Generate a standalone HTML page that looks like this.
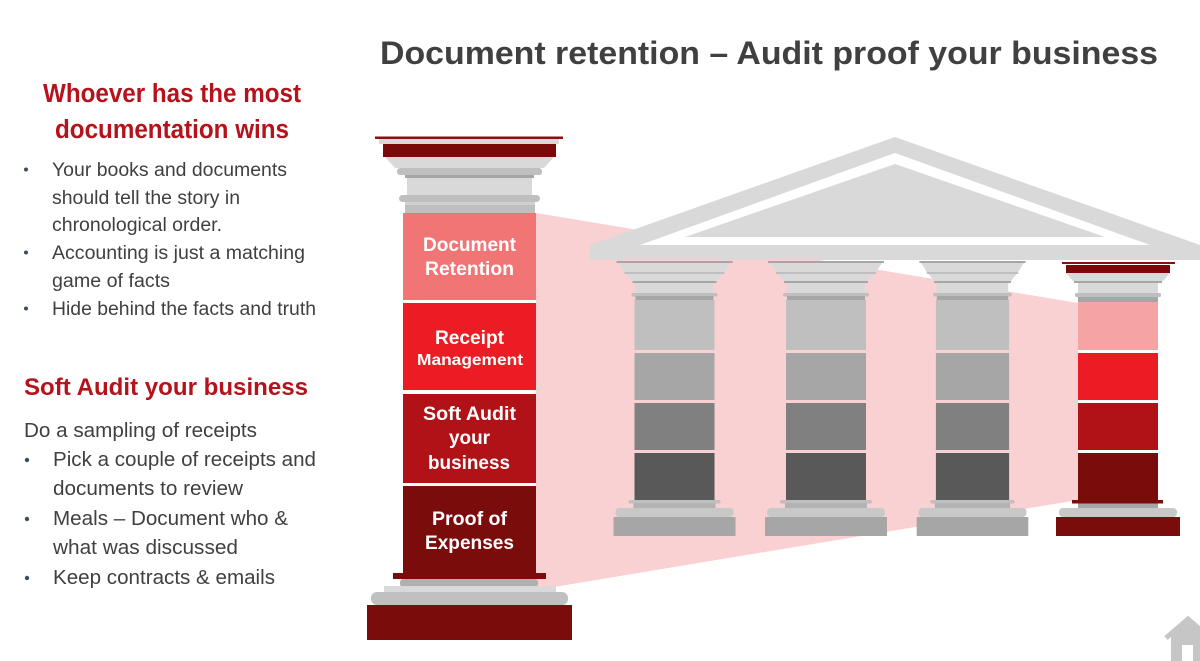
<!DOCTYPE html>
<html><head><meta charset="utf-8"><style>
html,body{margin:0;padding:0;background:#fff;}
svg{display:block;}
text{font-family:"Liberation Sans",Arial,sans-serif;}
</style></head><body>
<svg width="1200" height="661" viewBox="0 0 1200 661" xmlns="http://www.w3.org/2000/svg">
<rect width="1200" height="661" fill="#fff"/>

<!-- pink projection -->
<polygon points="536,213 1078,303 1078,500 536,590" fill="#f9d1d3"/>

<!-- roof -->
<polygon points="590,245 895,137 1200,245 1200,260 590,260" fill="#d9d9d9"/>
<polygon points="640,245 895,153 1150,245" fill="#ffffff"/>
<polygon points="685,237 895,164 1105,237" fill="#d9d9d9"/>

<!-- gray column definition -->
<defs>
<g id="gcol">
  <rect x="-58" y="261" width="116" height="2" fill="#a6a6a6"/>
  <polygon points="-56,263 56,263 50,272 -50,272" fill="#d9d9d9"/>
  <rect x="-50" y="272" width="100" height="2" fill="#bfbfbf"/>
  <polygon points="-48,274 48,274 42,281 -42,281" fill="#d9d9d9"/>
  <rect x="-42" y="281" width="84" height="2" fill="#a6a6a6"/>
  <rect x="-39" y="283" width="78" height="10" fill="#d9d9d9"/>
  <rect x="-43" y="293" width="86" height="3.5" rx="1.5" fill="#bfbfbf"/>
  <rect x="-39" y="296" width="78" height="4" fill="#a6a6a6"/>
  <rect x="-40" y="300" width="80" height="50" fill="#bfbfbf"/>
  <rect x="-40" y="353" width="80" height="47" fill="#a6a6a6"/>
  <rect x="-40" y="403" width="80" height="47" fill="#808080"/>
  <rect x="-40" y="453" width="80" height="47" fill="#595959"/>
  <rect x="-46" y="500" width="92" height="3.5" rx="1.5" fill="#bfbfbf"/>
  <rect x="-41" y="503" width="82" height="5" fill="#b3b3b3"/>
  <rect x="-59" y="508" width="118" height="9" rx="4" fill="#c8c8c8"/>
  <rect x="-61" y="517" width="122" height="19" fill="#a6a6a6"/>
</g>
</defs>
<use href="#gcol" transform="translate(674.5,0)"/>
<use href="#gcol" transform="translate(826,0)"/>
<use href="#gcol" transform="translate(972.5,0) scale(0.915,1)"/>

<!-- red column right -->
<g transform="translate(1118,0)">
  <rect x="-56" y="262" width="113" height="2" fill="#8b0e0e"/>
  <rect x="-52" y="265" width="104" height="8" fill="#7a0a0a"/>
  <polygon points="-52,273 52,273 45,281 -45,281" fill="#d9d9d9"/>
  <rect x="-44" y="281" width="88" height="2" fill="#a6a6a6"/>
  <rect x="-40" y="283" width="80" height="10" fill="#d9d9d9"/>
  <rect x="-43" y="293" width="86" height="4" rx="1.5" fill="#bfbfbf"/>
  <rect x="-40" y="297" width="80" height="5" fill="#a6a6a6"/>
  <rect x="-40" y="302" width="80" height="48" fill="#f5a3a3"/>
  <rect x="-40" y="353" width="80" height="47" fill="#ec1c24"/>
  <rect x="-40" y="403" width="80" height="47" fill="#b01217"/>
  <rect x="-40" y="453" width="80" height="47" fill="#7b0c0c"/>
  <rect x="-46" y="500" width="91" height="3.5" fill="#7b0c0c"/>
  <rect x="-40" y="503.5" width="80" height="5" fill="#a6a6a6"/>
  <rect x="-59" y="508" width="118" height="9" rx="4" fill="#c8c8c8"/>
  <rect x="-62" y="517" width="124" height="19" fill="#7b0c0c"/>
</g>

<!-- big left column -->
<rect x="375" y="136.5" width="188" height="2.5" fill="#8b1010"/>
<rect x="379" y="139" width="180" height="5" fill="#d9d9d9"/>
<rect x="383" y="144" width="173" height="13" fill="#7a0a0a"/>
<polygon points="385,157 554,157 544,168 395,168" fill="#d9d9d9"/>
<rect x="397" y="168" width="145" height="7" rx="3" fill="#bfbfbf"/>
<rect x="405" y="175" width="129" height="3" fill="#a6a6a6"/>
<rect x="407" y="178" width="125" height="17" fill="#d9d9d9"/>
<rect x="399" y="195" width="141" height="7" rx="3.5" fill="#bfbfbf"/>
<rect x="405" y="202" width="130" height="3" fill="#d0d0d0"/>
<rect x="405" y="205" width="130" height="8" fill="#bfbfbf"/>
<rect x="403" y="213" width="133" height="87" fill="#f17575"/>
<rect x="403" y="303" width="133" height="87" fill="#ec1c24"/>
<rect x="403" y="394" width="133" height="89" fill="#b01217"/>
<rect x="403" y="486" width="133" height="93" fill="#7b0c0c"/>
<rect x="393" y="573" width="153" height="6" fill="#7b0c0c"/>
<rect x="400" y="579" width="138" height="8" rx="3" fill="#b0b0b0"/>
<rect x="384" y="586" width="172" height="6" fill="#d9d9d9"/>
<rect x="371" y="592" width="197" height="13" rx="6" fill="#c0c0c0"/>
<rect x="367" y="605" width="205" height="35" fill="#7b0c0c"/>

<!-- column labels -->
<g fill="#ffffff" font-weight="bold" font-size="19.5">
  <text x="423" y="251" textLength="93" lengthAdjust="spacingAndGlyphs">Document</text>
  <text x="425" y="275" textLength="89" lengthAdjust="spacingAndGlyphs">Retention</text>
  <text x="435" y="344" textLength="69" lengthAdjust="spacingAndGlyphs">Receipt</text>
  <text x="417" y="365" font-size="15.5" textLength="106" lengthAdjust="spacingAndGlyphs">Management</text>
  <text x="423" y="420" textLength="93" lengthAdjust="spacingAndGlyphs">Soft Audit</text>
  <text x="449" y="444" textLength="41" lengthAdjust="spacingAndGlyphs">your</text>
  <text x="428" y="469" textLength="82" lengthAdjust="spacingAndGlyphs">business</text>
  <text x="432" y="525" textLength="75" lengthAdjust="spacingAndGlyphs">Proof of</text>
  <text x="425" y="549" textLength="89" lengthAdjust="spacingAndGlyphs">Expenses</text>
</g>

<!-- title -->
<text x="380" y="64" font-size="32" font-weight="bold" fill="#404040" textLength="778" lengthAdjust="spacingAndGlyphs">Document retention – Audit proof your business</text>

<!-- left headings -->
<g fill="#b5121b" font-weight="bold">
  <text x="43" y="102" font-size="25.5" textLength="258" lengthAdjust="spacingAndGlyphs">Whoever has the most</text>
  <text x="55" y="138" font-size="25.5" textLength="234" lengthAdjust="spacingAndGlyphs">documentation wins</text>
  <text x="24" y="395" font-size="24" textLength="284" lengthAdjust="spacingAndGlyphs">Soft Audit your business</text>
</g>

<!-- section 1 text -->
<g fill="#404040" font-size="19">
  <text x="52" y="176" textLength="235" lengthAdjust="spacingAndGlyphs">Your books and documents</text>
  <text x="52" y="204" textLength="188" lengthAdjust="spacingAndGlyphs">should tell the story in</text>
  <text x="52" y="231" textLength="170" lengthAdjust="spacingAndGlyphs">chronological order.</text>
  <text x="52" y="259" textLength="253" lengthAdjust="spacingAndGlyphs">Accounting is just a matching</text>
  <text x="52" y="287" textLength="118" lengthAdjust="spacingAndGlyphs">game of facts</text>
  <text x="52" y="315" textLength="264" lengthAdjust="spacingAndGlyphs">Hide behind the facts and truth</text>
</g>
<g fill="#3b4d61">
  <circle cx="26" cy="169.5" r="2"/>
  <circle cx="26" cy="252.5" r="2"/>
  <circle cx="26" cy="308.5" r="2"/>
  <circle cx="27" cy="460" r="2.2"/>
  <circle cx="27" cy="519" r="2.2"/>
  <circle cx="27" cy="578" r="2.2"/>
</g>

<!-- section 2 text -->
<g fill="#404040" font-size="20">
  <text x="24" y="437" textLength="233" lengthAdjust="spacingAndGlyphs">Do a sampling of receipts</text>
  <text x="53" y="466" textLength="263" lengthAdjust="spacingAndGlyphs">Pick a couple of receipts and</text>
  <text x="53" y="495" textLength="190" lengthAdjust="spacingAndGlyphs">documents to review</text>
  <text x="53" y="525" textLength="235" lengthAdjust="spacingAndGlyphs">Meals – Document who &amp;</text>
  <text x="53" y="554" textLength="185" lengthAdjust="spacingAndGlyphs">what was discussed</text>
  <text x="53" y="584" textLength="222" lengthAdjust="spacingAndGlyphs">Keep contracts &amp; emails</text>
</g>

<!-- home icon -->
<g fill="#c6c6c6">
  <polygon points="1171,636 1188,622 1205,636 1205,661 1171,661"/>
  <polyline points="1166,638 1188,619 1210,638" fill="none" stroke="#c6c6c6" stroke-width="5"/>
  <rect x="1182" y="645" width="11" height="16" fill="#ffffff"/>
</g>
</svg>
</body></html>
